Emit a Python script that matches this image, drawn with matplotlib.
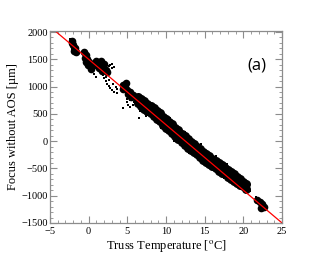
import numpy as np
import matplotlib
matplotlib.use("Agg")
import matplotlib.pyplot as plt
from matplotlib.ticker import MultipleLocator

# Focus vs truss temperature

# main band, upper and lower edge of the dense cloud
band_temp = [6.4, 6.8, 7.2, 7.6, 8.0, 8.4, 8.8, 9.2, 9.6, 10.0, 10.4, 10.8,
             11.2, 11.6, 12.0, 12.4, 12.8, 13.2, 13.6, 14.0, 14.4, 14.8, 15.2, 15.6,
             16.0, 16.4, 16.8, 17.2, 17.6, 18.0, 18.4, 18.8, 19.2, 19.6, 20.0, 20.4]
band_upper = [800, 770, 730, 690, 650, 600, 550, 510, 450, 410, 360, 310,
              250, 200, 140, 90, 40, -10, -60, -100, -150, -200, -240, -280,
              -320, -360, -400, -440, -490, -530, -570, -610, -650, -700, -750, -790]
band_lower = [700, 650, 590, 550, 510, 460, 410, 370, 300, 250, 200, 150,
              90, 40, -20, -70, -120, -160, -200, -240, -290, -340, -380, -420,
              -460, -500, -540, -580, -610, -650, -690, -730, -770, -800, -830, -870]

# separate clumps (dense)
clump_temp = [-2.2, -2.0, -1.8, -1.7, -2.1, -1.9,
              -0.6, -0.4, -0.2, 0.0, 0.2, -0.3, -0.5, -0.1, 0.3,
              0.9, 1.2, 1.5, 1.9, 2.2, 1.3, 1.7, 1.0, 2.0, 1.6, 2.4,
              4.4, 4.7, 5.0, 5.3, 5.7, 6.0, 4.8, 4.5, 5.1, 5.5,
              21.8, 22.1, 22.4, 22.6, 22.3]
clump_focus = [1840, 1770, 1700, 1640, 1800, 1660,
               1640, 1580, 1510, 1450, 1380, 1450, 1520, 1400, 1320,
               1460, 1430, 1400, 1350, 1310, 1340, 1290, 1400, 1420, 1460, 1260,
               1030, 990, 940, 900, 850, 800, 1060, 960, 870, 800,
               -1070, -1110, -1160, -1200, -1220]

# sparse single readings
stray_temp = [-2.4, -2.3, -1.6, -1.7, -2.1,
              0.1, 0.4, 0.7, 0.9, -0.1, 0.5,
              2.8, 3.0, 3.3, 3.0, 2.6,
              1.9, 2.0, 2.2, 2.4, 2.6, 2.8, 3.0, 3.3, 3.6, 3.7, 3.5, 2.6, 2.3, 3.1,
              5.0, 5.1, 5.4, 5.7, 5.8, 5.4, 4.9,
              6.5, 4.4,
              8.0, 9.0, 10.5, 12.5, 13.0, 15.0, 16.5, 18.0, 17.5, 19.0, 20.7, 20.8,
              9.3, 11.0, 14.5, 6.6, 7.4, 17.9, 21.6, 22.8]
stray_focus = [1880, 1800, 1600, 1580, 1690,
               1300, 1260, 1230, 1180, 1340, 1330,
               1400, 1420, 1360, 1340, 1380,
               1220, 1160, 1100, 1050, 1010, 970, 930, 900, 890, 950, 1000, 1120, 1180, 1050,
               720, 660, 630, 660, 720, 760, 780,
               425, 610,
               700, 600, 420, 170, -220, -420, -280, -480, -680, -560, -850, -920,
               250, 0, -60, 560, 470, -418, -1020, -1250]

# linear fit
fit_slope = -120.0
fit_intercept = 1500.0

plt.rcParams['font.family'] = ['Liberation Serif', 'DejaVu Serif']
plt.rcParams['mathtext.fontset'] = 'stix'

fig = plt.figure(figsize=(3.32, 2.66), dpi=100)
ax = fig.add_axes([0.1506, 0.1617, 0.699, 0.722])

ax.plot(band_temp + band_temp, band_upper + band_lower, 'o', color='black',
        ms=6.5, mew=0)
ax.plot(clump_temp, clump_focus, 'o', color='black', ms=5.5, mew=0)
ax.plot(stray_temp, stray_focus, 's', color='black', ms=1.6, mew=0)

xfit = np.array([-5.0, 25.0])
ax.plot(xfit, np.polyval([fit_slope, fit_intercept], xfit), color='red', lw=0.9)

ax.set_xlim(-5, 25)
ax.set_ylim(-1500, 2020)
ax.xaxis.set_major_locator(MultipleLocator(5))
ax.xaxis.set_minor_locator(MultipleLocator(1))
ax.yaxis.set_major_locator(MultipleLocator(500))
ax.yaxis.set_minor_locator(MultipleLocator(100))

frame_col = '#8c8c8c'
for s in ax.spines.values():
    s.set_color(frame_col)
    s.set_linewidth(0.9)
ax.tick_params(which='both', direction='in', top=True, right=True,
               colors=frame_col, labelcolor='black', labelsize=7.5, pad=1.5)
ax.tick_params(which='major', length=5, width=0.8)
ax.tick_params(which='minor', length=2.5, width=0.6)
ax.tick_params(axis='x', pad=3)

ax.set_xlabel('Truss Temperature [$^{\\rm o}$C]', fontsize=9, labelpad=1)
ax.set_ylabel('Focus without AOS [\u00b5m]', fontsize=9, labelpad=2)

ax.text(0.89, 0.82, '(a)', transform=ax.transAxes, fontsize=12,
        family=['Open Sans', 'DejaVu Sans'], ha='center', va='center')

fig.savefig('out.png', dpi=100)
